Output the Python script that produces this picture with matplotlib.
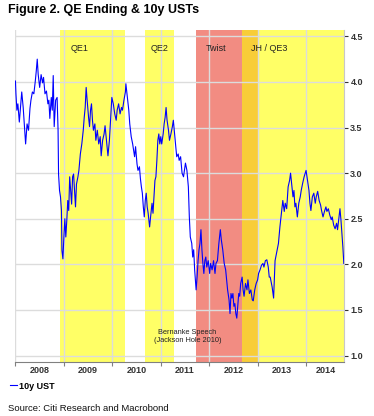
import matplotlib
matplotlib.use('Agg')
import matplotlib.pyplot as plt

# 10y UST yield (decimal year, percent)
t = [2008.00, 2008.01, 2008.03, 2008.05, 2008.08, 2008.10, 2008.13, 2008.16, 2008.19, 2008.21,
     2008.24, 2008.27, 2008.30, 2008.32, 2008.35, 2008.38, 2008.41, 2008.43, 2008.45, 2008.47,
     2008.50, 2008.53, 2008.56, 2008.58, 2008.61, 2008.64, 2008.67, 2008.69, 2008.71, 2008.74,
     2008.76, 2008.78, 2008.80, 2008.83, 2008.86, 2008.88, 2008.89, 2008.91, 2008.93, 2008.95,
     2008.96, 2008.98, 2009.00, 2009.02, 2009.04, 2009.06, 2009.08, 2009.10, 2009.12, 2009.14,
     2009.16, 2009.18, 2009.20, 2009.22, 2009.24, 2009.26, 2009.29, 2009.31, 2009.34, 2009.37,
     2009.40, 2009.42, 2009.44, 2009.46, 2009.48, 2009.51, 2009.53, 2009.55, 2009.57, 2009.59,
     2009.61, 2009.64, 2009.66, 2009.69,
     2009.72, 2009.75, 2009.77, 2009.80, 2009.83, 2009.85, 2009.88, 2009.91, 2009.94, 2009.97,
     2009.99, 2010.02, 2010.05, 2010.08, 2010.10, 2010.13, 2010.16, 2010.19, 2010.21, 2010.24,
     2010.27, 2010.28, 2010.31, 2010.34, 2010.36, 2010.39, 2010.42, 2010.44, 2010.46, 2010.48,
     2010.51, 2010.53, 2010.56, 2010.58, 2010.60, 2010.62, 2010.64, 2010.66, 2010.68, 2010.70,
     2010.72, 2010.74, 2010.77, 2010.79, 2010.82, 2010.84, 2010.86, 2010.88, 2010.90, 2010.92,
     2010.94, 2010.96, 2010.98, 2011.00, 2011.02, 2011.05, 2011.07, 2011.09, 2011.11, 2011.13,
     2011.16, 2011.18, 2011.21, 2011.24, 2011.26, 2011.29, 2011.31, 2011.33, 2011.36, 2011.38,
     2011.41, 2011.44, 2011.47,
     2011.51, 2011.54, 2011.57, 2011.59, 2011.61, 2011.64, 2011.66, 2011.68, 2011.70, 2011.73,
     2011.75, 2011.77, 2011.79, 2011.81, 2011.83, 2011.85, 2011.87, 2011.89, 2011.91, 2011.93,
     2011.95, 2011.98, 2012.01, 2012.03, 2012.06, 2012.09, 2012.12, 2012.14, 2012.17, 2012.20,
     2012.23, 2012.25, 2012.28, 2012.31, 2012.34, 2012.36, 2012.38, 2012.41, 2012.43, 2012.45,
     2012.47, 2012.49, 2012.51, 2012.53, 2012.55, 2012.57, 2012.59, 2012.61, 2012.63, 2012.65,
     2012.68, 2012.70, 2012.72, 2012.75, 2012.78, 2012.80, 2012.83, 2012.86, 2012.89, 2012.91,
     2012.94, 2012.97, 2013.00, 2013.02, 2013.05, 2013.08, 2013.11, 2013.13, 2013.16, 2013.19,
     2013.22, 2013.24,
     2013.26, 2013.30, 2013.33, 2013.36, 2013.40, 2013.43, 2013.46, 2013.49, 2013.52, 2013.55,
     2013.57, 2013.60, 2013.63, 2013.66, 2013.68, 2013.71, 2013.73, 2013.75, 2013.77, 2013.79,
     2013.82, 2013.85, 2013.88, 2013.90, 2013.93, 2013.96, 2014.00, 2014.03, 2014.06, 2014.08,
     2014.10, 2014.13, 2014.16, 2014.19, 2014.21, 2014.24, 2014.27, 2014.30, 2014.32, 2014.35,
     2014.38, 2014.41, 2014.43, 2014.46, 2014.49, 2014.52, 2014.54, 2014.57, 2014.60, 2014.63,
     2014.65, 2014.68, 2014.70, 2014.72, 2014.74, 2014.76, 2014.78]
ust10 = [4.01, 3.87, 3.69, 3.76, 3.56, 3.69, 3.89, 3.72, 3.47, 3.32,
         3.54, 3.47, 3.71, 3.80, 3.89, 3.87, 4.01, 4.12, 4.25, 4.08,
         3.94, 4.08, 3.99, 4.05, 3.87, 3.90, 3.76, 3.80, 3.60, 3.83,
         3.69, 4.07, 3.51, 3.80, 3.83, 3.47, 2.99, 2.81, 2.74, 2.59,
         2.15, 2.06, 2.30, 2.50, 2.30, 2.48, 2.70, 2.59, 2.96, 2.81,
         2.66, 2.96, 2.99, 2.81, 2.63, 2.88, 2.96, 3.03, 3.21, 3.32,
         3.47, 3.61, 3.72, 3.94, 3.80, 3.61, 3.51, 3.69, 3.76, 3.58,
         3.47, 3.54, 3.36, 3.47,
         3.32, 3.40, 3.19, 3.36, 3.43, 3.52, 3.36, 3.19, 3.36, 3.65,
         3.83, 3.76, 3.65, 3.58, 3.69, 3.76, 3.65, 3.72, 3.69, 3.80,
         3.89, 3.98, 3.83, 3.69, 3.54, 3.40, 3.32, 3.25, 3.18, 3.29,
         3.10, 3.03, 3.07, 2.94, 2.85, 2.78, 2.63, 2.52, 2.70, 2.78,
         2.63, 2.56, 2.41, 2.52, 2.67, 2.56, 2.74, 2.92, 2.96, 3.14,
         3.36, 3.43, 3.32, 3.40, 3.32, 3.43, 3.54, 3.61, 3.72, 3.58,
         3.47, 3.36, 3.43, 3.51, 3.58, 3.40, 3.29, 3.18, 3.21, 3.14,
         3.18, 3.00, 2.96,
         3.11, 3.03, 2.85, 2.52, 2.30, 2.23, 2.08, 2.16, 1.94, 1.72,
         1.86, 2.04, 2.16, 2.23, 2.38, 2.16, 2.01, 1.90, 2.04, 2.08,
         1.97, 2.04, 1.90, 2.01, 1.94, 2.04, 1.90, 2.01, 2.04, 2.23,
         2.38, 2.27, 2.16, 2.01, 1.94, 1.83, 1.72, 1.61, 1.46, 1.68,
         1.63, 1.68, 1.54, 1.57, 1.46, 1.41, 1.54, 1.68, 1.65, 1.79,
         1.86, 1.72, 1.65, 1.79, 1.72, 1.83, 1.68, 1.72, 1.61, 1.60,
         1.72, 1.79, 1.83, 1.90, 1.94, 1.99, 2.01, 1.97, 2.04, 2.05,
         1.97, 1.86,
         1.86, 1.75, 1.63, 2.04, 2.15, 2.23, 2.41, 2.56, 2.70, 2.58,
         2.67, 2.61, 2.85, 2.92, 3.00, 2.85, 2.74, 2.81, 2.63, 2.67,
         2.52, 2.67, 2.74, 2.81, 2.89, 2.96, 3.03, 2.92, 2.81, 2.67,
         2.59, 2.74, 2.78, 2.67, 2.74, 2.80, 2.70, 2.65, 2.59, 2.52,
         2.58, 2.63, 2.58, 2.61, 2.54, 2.49, 2.52, 2.43, 2.39, 2.45,
         2.38, 2.52, 2.61, 2.49, 2.34, 2.19, 2.01]

# policy periods (start, end)
qe1 = (2008.91, 2010.27)
qe2 = (2010.67, 2011.28)
twist = (2011.73, 2013.00)
qe3 = (2012.67, 2014.80)

years = [2008, 2009, 2010, 2011, 2012, 2013, 2014]
yticks = [1.0, 1.5, 2.0, 2.5, 3.0, 3.5, 4.0, 4.5]

narrow = ['Liberation Sans Narrow', 'Liberation Sans', 'DejaVu Sans']
sans = ['Liberation Sans', 'DejaVu Sans']

fig = plt.figure(figsize=(3.74, 4.16), dpi=100)
ax = fig.add_axes([0.040, 0.130, 0.880, 0.798])

yellow = '#FFFF66'
red = '#F28C82'
orange = '#F8CD38'
ax.axvspan(*qe1, color=yellow, lw=0, zorder=0)
ax.axvspan(*qe2, color=yellow, lw=0, zorder=0)
ax.axvspan(twist[0], qe3[0], color=red, lw=0, zorder=0)
ax.axvspan(qe3[0], twist[1], color=orange, lw=0, zorder=0)
ax.axvspan(twist[1], qe3[1], color=yellow, lw=0, zorder=0)

for yr in years:
    ax.axvline(yr, color='#DCDCDC', lw=1.0, zorder=1)
for yv in yticks:
    ax.axhline(yv, color='#DCDCDC', lw=1.0, zorder=1)

ax.plot(t, ust10, color='#0000FF', lw=0.8, zorder=3, label='10y UST')

ax.set_xlim(2007.99, 2014.785)
ax.set_ylim(0.93, 4.57)

for s in ['left', 'top']:
    ax.spines[s].set_visible(False)
ax.spines['bottom'].set_color('#808080')
ax.spines['right'].set_color('#C8C8C8')
ax.spines['right'].set_linewidth(0.8)

ax.yaxis.tick_right()
ax.set_yticks(yticks)
ax.set_yticklabels([f'{v:.1f}' for v in yticks], fontsize=6.5, fontweight='bold',
                   color='#333333', family=sans)
ax.tick_params(axis='y', length=3, width=0.8, color='#333333', pad=1.5)

ax.set_xticks(years)
ax.set_xticklabels([])
ax.tick_params(axis='x', which='major', length=3, width=0.8, color='#808080')
ax.set_xticks([y + 0.5 for y in years[:-1]] + [2014.4], minor=True)
ax.set_xticklabels([str(y) for y in years], minor=True, fontsize=6.5,
                   fontweight='bold', color='#333333', family=sans)
ax.tick_params(axis='x', which='minor', length=0, pad=3)

lab = dict(fontsize=6.5, color='#222222', family=sans, va='center', ha='left')
ax.text(2009.13, 4.37, 'QE1', **lab)
ax.text(2010.80, 4.37, 'QE2', **lab)
ax.text(2011.93, 4.37, 'Twist', **lab)
ax.text(2012.86, 4.37, 'JH / QE3', **lab)
ax.text(2011.55, 1.21, 'Bernanke Speech\n(Jackson Hole 2010)', fontsize=5.3,
        color='#222222', family=sans, ha='center', va='center', linespacing=1.2)

fig.text(0.021, 0.976, 'Figure 2. QE Ending & 10y USTs', fontsize=9, fontweight='bold',
         family=narrow, va='center', ha='left')
leg = fig.legend(loc='center left', bbox_to_anchor=(0.005, 0.072), frameon=False,
                 handlelength=0.8, handletextpad=0.15,
                 prop={'size': 6.5, 'weight': 'bold', 'family': sans})
fig.text(0.021, 0.019, 'Source: Citi Research and Macrobond', fontsize=6.8,
         family=narrow, va='center', ha='left', color='#111111')

fig.savefig('out.png', dpi=100)
